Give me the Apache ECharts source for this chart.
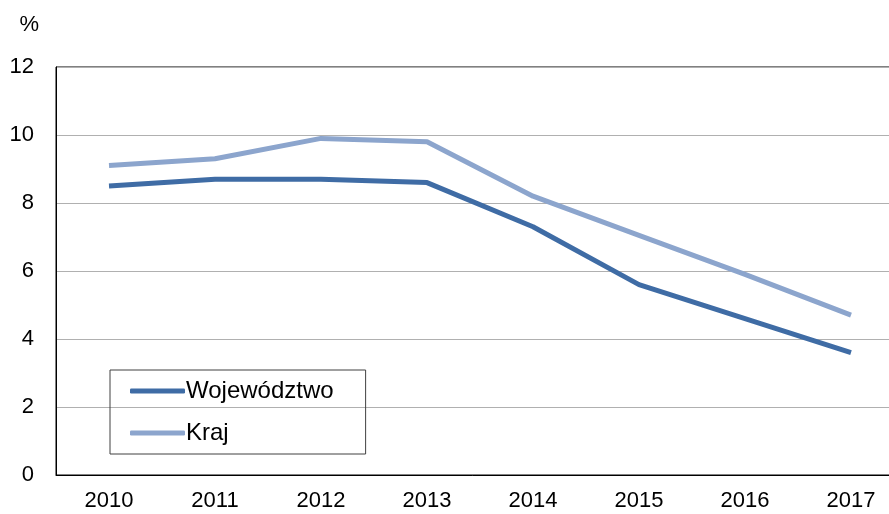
<!DOCTYPE html>
<html><head><meta charset="utf-8">
<script src="https://cdn.jsdelivr.net/npm/echarts@6/dist/echarts.min.js"></script>
<style>html,body{margin:0;padding:0;background:#fff}#c{width:889px;height:514px}</style>
</head><body><div id="c"></div>
<script>
var categories = ['2010','2011','2012','2013','2014','2015','2016','2017'];
var wojewodztwo = [8.5, 8.7, 8.7, 8.6, 7.3, 5.6, 4.6, 3.6];
var kraj = [9.1, 9.3, 9.9, 9.8, 8.2, 7.05, 5.9, 4.7];
var seriesNames = ['Województwo', 'Kraj'];

var chart = echarts.init(document.getElementById('c'));
var font = 'Liberation Sans, Arial, sans-serif';
chart.setOption({
  animation: false,
  backgroundColor: '#fff',
  grid: { left: 56, top: 67, width: 848, bottom: 39, containLabel: false, outerBoundsMode: 'none',
          show: true, borderColor: '#000', borderWidth: 1, backgroundColor: 'transparent' },
  legend: {
    orient: 'vertical', left: 110, top: 370,
    padding: [9, 32, 9, 20],
    itemGap: 18,
    itemWidth: 55, itemHeight: 5,
    borderColor: '#404040', borderWidth: 1,
    icon: 'roundRect',
    textStyle: { fontFamily: font, fontSize: 24, color: '#000', padding: [0, 0, 0, -4] },
    data: seriesNames
  },
  xAxis: {
    type: 'category', data: categories, boundaryGap: true,
    axisLine: { lineStyle: { color: '#000', width: 1 } },
    axisTick: { show: false },
    axisLabel: { fontFamily: font, fontSize: 22, color: '#000', margin: 15 }
  },
  yAxis: {
    type: 'value', min: 0, max: 12, interval: 2,
    name: '%', nameLocation: 'end', nameGap: 31,
    nameTextStyle: { fontFamily: font, fontSize: 22, color: '#000', align: 'right', padding: [0, 17, 0, 0] },
    axisLine: { show: true, lineStyle: { color: '#000' } },
    axisTick: { show: false },
    splitLine: { lineStyle: { color: '#b0b0b0', width: 1 } },
    axisLabel: { fontFamily: font, fontSize: 22, color: '#000', margin: 22 }
  },
  series: [
    { name: seriesNames[0], type: 'line', data: wojewodztwo, symbol: 'none',
      lineStyle: { color: '#3F6CA5', width: 5 }, itemStyle: { color: '#3F6CA5' } },
    { name: seriesNames[1], type: 'line', data: kraj, symbol: 'none',
      lineStyle: { color: '#8CA5CD', width: 5 }, itemStyle: { color: '#8CA5CD' } }
  ]
});
</script></body></html>
